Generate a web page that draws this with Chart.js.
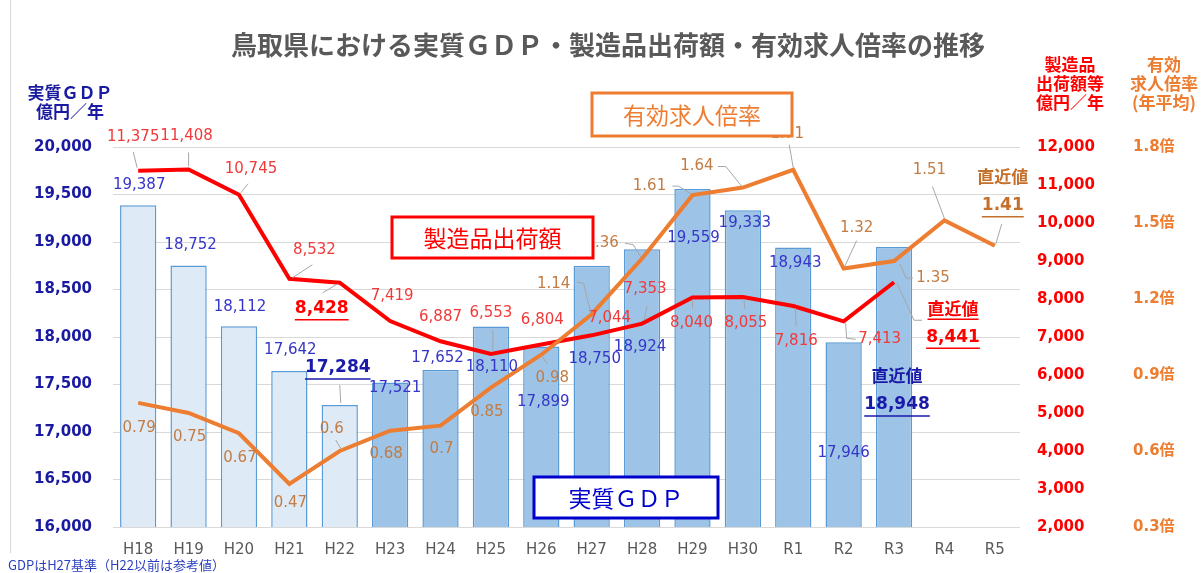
<!DOCTYPE html>
<html>
<head>
<meta charset="utf-8">
<script src="https://cdn.jsdelivr.net/npm/chart.js@4/dist/chart.umd.min.js"></script>
<style>
  html, body { margin: 0; padding: 0; background: #fff; }
  canvas { display: block; }
</style>
</head>
<body>
<canvas id="myChart" width="1203" height="573"></canvas>
<script>
// 年度
const years = ['H18', 'H19', 'H20', 'H21', 'H22', 'H23', 'H24', 'H25', 'H26', 'H27', 'H28', 'H29', 'H30', 'R1', 'R2', 'R3', 'R4', 'R5'];
// 実質GDP（億円／年）
const gdp = [19387, 18752, 18112, 17642, 17284, 17521, 17652, 18110, 17899, 18750, 18924, 19559, 19333, 18943, 17946, 18948, null, null];
// 製造品出荷額等（億円／年）
const shipments = [11375, 11408, 10745, 8532, 8428, 7419, 6887, 6553, 6804, 7044, 7353, 8040, 8055, 7816, 7413, 8441, null, null];
// 有効求人倍率（年平均）
const jobRatio = [0.79, 0.75, 0.67, 0.47, 0.6, 0.68, 0.7, 0.85, 0.98, 1.14, 1.36, 1.61, 1.64, 1.71, 1.32, 1.35, 1.51, 1.41];

const referenceCount = 5; // H22以前は参考値
const latestLabel = '直近値';

const FONT = '"DejaVu Sans", "Noto Sans CJK JP", sans-serif';
const JP = '"Noto Sans CJK JP", sans-serif';

// ラベルの位置（点からのずれ）
const labelStyles = [
    {
        color: '#3535c8', strong: '#1a1aa8', emphasis: [4, 15], latest: 15,
        offsets: [[1,-20],[2,-20],[1,-19],[1,-21],[-2,-37],[5,6],[-3,-12],[1,41],[2,56],[3,93],[-2,98],[1,49],[2,13],[2,16],[0,111],[3,158]],
        leaders: { 4: [[0,-20],[1,-2]] }
    },
    {
        color: '#f03a3a', strong: '#ff0000', emphasis: [4, 15], latest: 15,
        offsets: [[-5,-34],[-2,-33],[12,-26],[25,-29],[-18,26],[2,-25],[0,-24],[0,-41],[1,-24],[18,-17],[3,-34],[-1,26],[3,26],[3,35],[36,18],[59,55]],
        leaders: {
            0: [[-5,-19],[-1,-3]], 1: [[0,-17],[0,-3]], 2: [[9,-11],[2,-2]], 3: [[23,-14],[3,-1]],
            4: [[-17,10],[-2,1]], 7: [[2,-24],[2,-2]], 10: [[5,-18],[2,-3]], 11: [[0,11],[0,2]],
            12: [[2,12],[1,2]], 13: [[3,20],[2,2]], 14: [[12,18],[3,17],[2,2]], 15: [[28,38],[20,38],[3,1]]
        }
    },
    {
        color: '#c27c44', strong: '#c5702a', emphasis: [17], latest: 17,
        offsets: [[1,25],[1,24],[1,25],[1,19],[-8,-22],[-4,23],[1,23],[-4,24],[11,23],[-38,-30],[-40,-15],[-43,-9],[-46,-21],[-6,-36],[13,-40],[39,17],[-15,-50],[8,-40]],
        leaders: {
            4: [[-4,-11],[2,-1]], 8: [[6,9],[0,1]], 9: [[-15,-32],[-8,-31],[-1,-1]],
            10: [[-17,-15],[-9,-14],[-1,-1]], 11: [[-20,-9],[-14,-9],[-1,-1]], 12: [[-25,-21],[-17,-21],[-1,-1]],
            13: [[-4,-25],[0,-2]], 14: [[13,-28],[1,-2]], 15: [[19,17],[12,17],[6,3]],
            16: [[-12,-34],[0,-2]], 17: [[7,-22],[1,-2]]
        }
    }
];

function formatValue(v, datasetIndex) {
    if (datasetIndex === 2) return String(v);
    return v.toLocaleString('en-US');
}

const dataLabels = {
    id: 'dataLabels',
    afterDatasetsDraw(chart) {
        const ctx = chart.ctx;
        ctx.save();
        labelStyles.forEach((st, di) => {
            const meta = chart.getDatasetMeta(di);
            const values = chart.data.datasets[di].data;
            meta.data.forEach((el, i) => {
                if (values[i] === null || !st.offsets[i]) return;
                const px = el.x, py = el.y;
                // 引き出し線
                const lead = st.leaders[i];
                if (lead) {
                    ctx.strokeStyle = '#a6a6a6';
                    ctx.lineWidth = 1;
                    ctx.beginPath();
                    lead.forEach(([lx, ly], k) => {
                        if (k === 0) ctx.moveTo(px + lx, py + ly); else ctx.lineTo(px + lx, py + ly);
                    });
                    ctx.stroke();
                }
                const x = px + st.offsets[i][0];
                const y = py + st.offsets[i][1];
                const text = formatValue(values[i], di);
                const strong = st.emphasis.includes(i);
                ctx.textAlign = 'center';
                ctx.textBaseline = 'middle';
                if (strong) {
                    ctx.font = 'bold 17px ' + FONT;
                    ctx.fillStyle = st.strong;
                    ctx.fillText(text, x, y);
                    const w = ctx.measureText(text).width;
                    ctx.strokeStyle = st.strong;
                    ctx.lineWidth = 1.5;
                    ctx.beginPath();
                    ctx.moveTo(x - w / 2, y + 11);
                    ctx.lineTo(x + w / 2, y + 11);
                    ctx.stroke();
                    if (i === st.latest) {
                        ctx.font = 'bold 17px ' + JP;
                        ctx.fillText(latestLabel, x, y - 29);
                        if (di === 1) {
                            const w2 = ctx.measureText(latestLabel).width;
                            ctx.beginPath();
                            ctx.moveTo(x - w2 / 2, y - 18);
                            ctx.lineTo(x + w2 / 2, y - 18);
                            ctx.stroke();
                        }
                    }
                } else {
                    ctx.font = '15px ' + FONT;
                    ctx.fillStyle = st.color;
                    ctx.fillText(text, x, y);
                }
            });
        });
        ctx.restore();
    }
};

function drawBox(ctx, text, x1, y1, x2, y2, color) {
    ctx.fillStyle = '#fff';
    ctx.fillRect(x1, y1, x2 - x1, y2 - y1);
    ctx.strokeStyle = color;
    ctx.lineWidth = 3;
    ctx.strokeRect(x1, y1, x2 - x1, y2 - y1);
    ctx.fillStyle = color;
    ctx.font = '23px ' + JP;
    ctx.textAlign = 'center';
    ctx.textBaseline = 'middle';
    ctx.fillText(text, (x1 + x2) / 2, (y1 + y2) / 2 + 1);
}

const decorations = {
    id: 'decorations',
    afterDraw(chart) {
        const ctx = chart.ctx;
        ctx.save();
        // 枠線
        ctx.strokeStyle = '#d9d9d9';
        ctx.lineWidth = 1;
        ctx.beginPath();
        ctx.moveTo(10.5, 0);
        ctx.lineTo(10.5, 553);
        ctx.stroke();

        ctx.textAlign = 'center';
        ctx.textBaseline = 'middle';
        // タイトル
        ctx.fillStyle = '#595959';
        ctx.font = 'bold 26px ' + JP;
        ctx.fillText('鳥取県における実質ＧＤＰ・製造品出荷額・有効求人倍率の推移', 608, 45);

        // 軸タイトル
        ctx.font = 'bold 17px ' + JP;
        ctx.fillStyle = '#1a1aa0';
        ctx.fillText('実質ＧＤＰ', 70, 93);
        ctx.fillText('億円／年', 70, 112);
        ctx.fillStyle = '#ff0000';
        ctx.fillText('製造品', 1070, 65);
        ctx.fillText('出荷額等', 1070, 84);
        ctx.fillText('億円／年', 1070, 103);
        ctx.fillStyle = '#ed7d31';
        ctx.fillText('有効', 1164, 65);
        ctx.fillText('求人倍率', 1164, 84);
        ctx.fillText('(年平均)', 1164, 103);

        // 系列名の枠
        drawBox(ctx, '有効求人倍率', 592, 93, 792, 136, '#ed7d31');
        drawBox(ctx, '製造品出荷額', 392, 217, 593, 258, '#ff0000');
        drawBox(ctx, '実質ＧＤＰ', 534, 477, 718, 518, '#0000cc');

        // 注記
        ctx.textAlign = 'left';
        ctx.font = '13px ' + JP;
        ctx.fillStyle = '#2a3fc0';
        ctx.fillText('GDPはH27基準（H22以前は参考値）', 8, 565);
        ctx.restore();
    }
};

const barFill = years.map((y, i) => i < referenceCount ? '#deebf7' : '#9dc3e6');

new Chart(document.getElementById('myChart'), {
    type: 'bar',
    data: {
        labels: years,
        datasets: [
            {
                type: 'bar',
                label: '実質ＧＤＰ',
                data: gdp,
                yAxisID: 'y',
                backgroundColor: barFill,
                borderColor: '#5b9bd5',
                borderWidth: 1.5,
                barPercentage: 0.72,
                categoryPercentage: 1.0,
                order: 3
            },
            {
                type: 'line',
                label: '製造品出荷額',
                data: shipments,
                yAxisID: 'y1',
                borderColor: '#ff0000',
                borderWidth: 4,
                pointRadius: 0,
                tension: 0,
                order: 2
            },
            {
                type: 'line',
                label: '有効求人倍率',
                data: jobRatio,
                yAxisID: 'y2',
                borderColor: '#ed7d31',
                borderWidth: 4,
                pointRadius: 0,
                tension: 0,
                order: 1
            }
        ]
    },
    options: {
        responsive: false,
        animation: false,
        locale: 'en-US',
        layout: { padding: { top: 147, left: 0, right: 0, bottom: 0 } },
        plugins: {
            legend: { display: false },
            tooltip: { enabled: false },
            title: { display: false }
        },
        scales: {
            x: {
                grid: { display: false, drawTicks: false },
                border: { display: false },
                ticks: { color: '#595959', font: { family: FONT, size: 15 }, padding: 14, maxRotation: 0 },
                afterFit(scale) { scale.height = 46; }
            },
            y: {
                position: 'left',
                min: 16000,
                max: 20000,
                ticks: { stepSize: 500, color: '#1a1aa0', font: { family: FONT, size: 15, weight: 'bold' }, padding: 21 },
                grid: { color: '#d9d9d9', lineWidth: 1, drawTicks: false },
                border: { display: false },
                afterFit(scale) { scale.width = 113; }
            },
            y1: {
                position: 'right',
                min: 2000,
                max: 12000,
                ticks: { stepSize: 1000, color: '#ff0000', font: { family: FONT, size: 15, weight: 'bold' }, padding: 17 },
                grid: { display: false, drawTicks: false },
                border: { display: false },
                afterFit(scale) { scale.width = 95; }
            },
            y2: {
                position: 'right',
                min: 0.3,
                max: 1.8,
                ticks: {
                    stepSize: 0.3,
                    color: '#ed7d31',
                    font: { family: FONT, size: 15, weight: 'bold' },
                    padding: 18,
                    callback: v => Number(v).toFixed(1) + '倍'
                },
                grid: { display: false, drawTicks: false },
                border: { display: false },
                afterFit(scale) { scale.width = 88; }
            }
        }
    },
    plugins: [dataLabels, decorations]
});
</script>
</body>
</html>
